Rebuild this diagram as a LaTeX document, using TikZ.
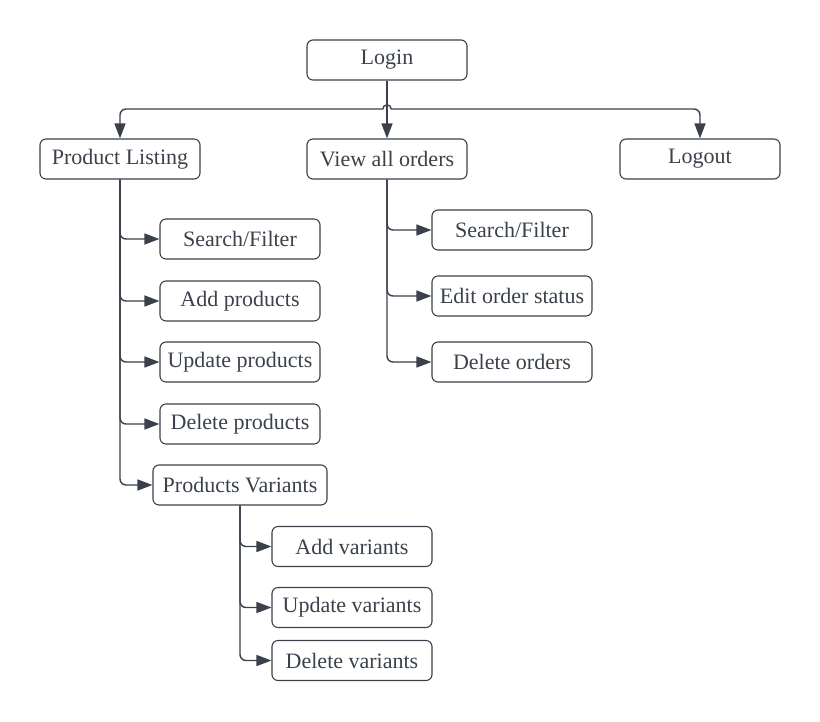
\documentclass[tikz,border=0pt]{standalone}
\usepackage{fontspec}
\setmainfont{Liberation Serif}
\usetikzlibrary{arrows.meta}
\definecolor{ink}{HTML}{3A414A}
\begin{document}
\begin{tikzpicture}[x=1pt,y=-1pt,
  box/.style={draw=ink,line width=1.1pt,rounded corners=6pt,minimum height=40pt,
    minimum width=160pt,inner sep=0pt,text=ink,font=\fontsize{22}{25}\selectfont},
  conn/.style={draw=ink,line width=1.4pt,rounded corners=6pt,-{Triangle[length=15pt,width=11pt]}}]
\useasboundingbox (0,0) rectangle (820,721);
\node[box] (login) at (387,60) {Login};
\node[box] (pl) at (120,159) {Product Listing};
\node[box] (vao) at (387,159) {View all orders};
\node[box] (logout) at (700,159) {Logout};
\node[box] (sf1) at (240,239) {Search/Filter};
\node[box] (addp) at (240,301) {Add products};
\node[box] (updp) at (240,362) {Update products};
\node[box] (delp) at (240,424) {Delete products};
\node[box,minimum width=174pt] (pv) at (240,485) {Products Variants};
\node[box] (sf2) at (512,230) {Search/Filter};
\node[box] (edit) at (512,296) {Edit order status};
\node[box] (delo) at (512,362) {Delete orders};
\node[box] (addv) at (352,546.5) {Add variants};
\node[box] (updv) at (352,607.5) {Update variants};
\node[box] (delv) at (352,660.5) {Delete variants};
\coordinate (split) at (387,109);
% top connectors
\draw[conn] (login.south) -- (vao.north);
\draw[conn] (split) ++(-4,0) -| (pl.north);
\draw[conn] (split) ++(4,0) -| (logout.north);
\draw[draw=ink,line width=1.4pt] (split) ++(-4.2,0) arc[start angle=180,end angle=0,radius=4.2pt];
% product listing children
\foreach \c in {sf1,addp,updp,delp,pv}
  \draw[conn] (pl.south) |- (\c.west);
% orders children
\foreach \c in {sf2,edit,delo}
  \draw[conn] (vao.south) |- (\c.west);
% variants children
\foreach \c in {addv,updv,delv}
  \draw[conn] (pv.south) |- (\c.west);
\end{tikzpicture}
\end{document}
